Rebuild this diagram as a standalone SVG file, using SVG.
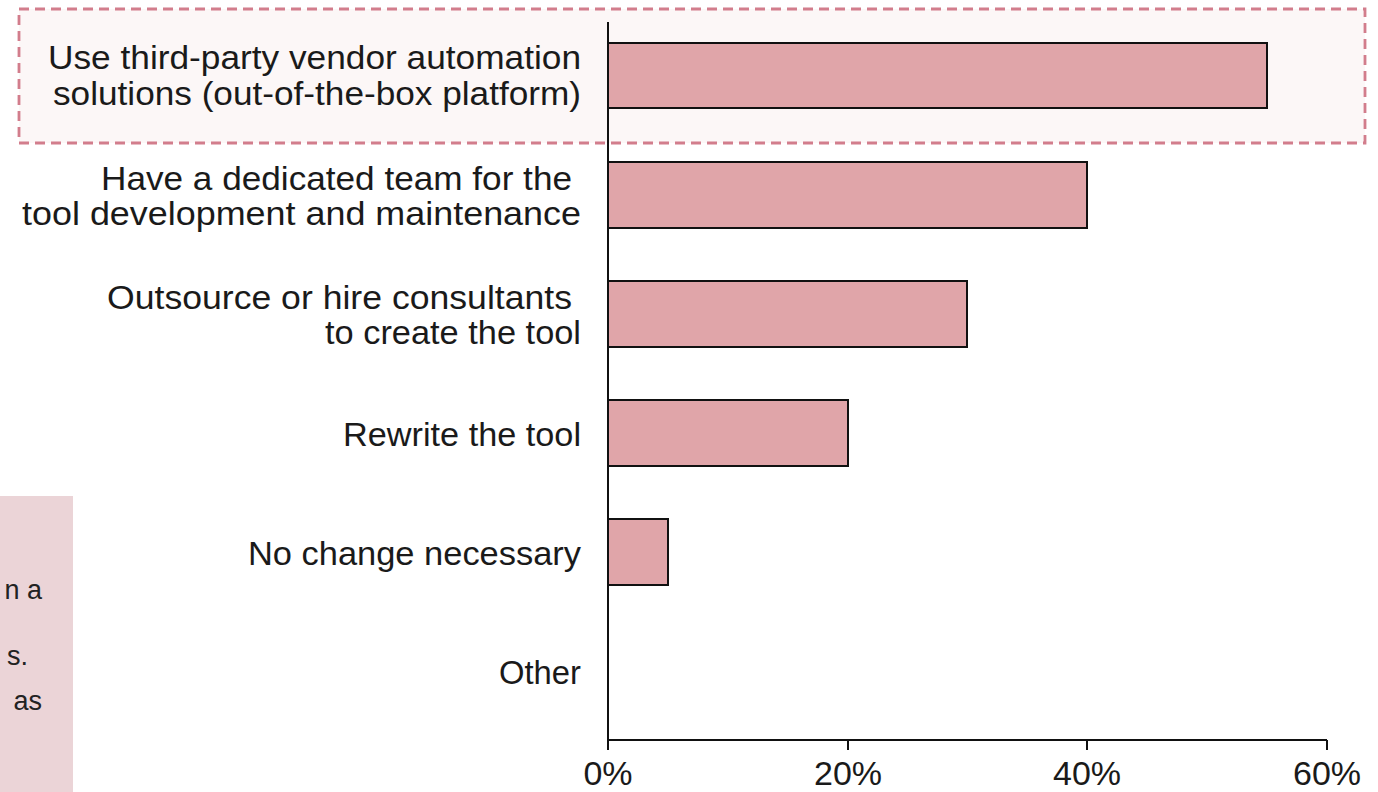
<svg xmlns="http://www.w3.org/2000/svg" width="1378" height="792" viewBox="0 0 1378 792">
<style>
.lbl{font-family:"Liberation Sans",Arial,sans-serif;font-size:34px;fill:#1a1a1a;text-anchor:end}
.tick{font-family:"Liberation Sans",Arial,sans-serif;font-size:34px;fill:#1a1a1a;text-anchor:middle}
.bar{fill:#E0A5A9;stroke:#111;stroke-width:2}
.ax{stroke:#111;stroke-width:2;fill:none}
.note{font-family:"Liberation Sans",Arial,sans-serif;font-size:27px;fill:#222;text-anchor:end}
</style>
<rect width="1378" height="792" fill="#ffffff"/>
<g id="note-box">
<rect x="0" y="496" width="73" height="300" fill="#EBD4D7"/>
<text class="note" x="42" y="599">n a</text>
<text class="note" x="28" y="665">s.</text>
<text class="note" x="42" y="710">as</text>
</g>
<g id="highlight">
<rect x="19" y="9" width="1346" height="134" fill="#FCF7F7" stroke="#D27D8C" stroke-width="2.8" stroke-dasharray="10 6"/>
</g>
<g id="axes">
<path class="ax" d="M608 22V750M608 740H1327M848 740V750M1087 740V750M1327 740V750"/>
<text class="tick" x="608" y="785">0%</text>
<text class="tick" x="848" y="785">20%</text>
<text class="tick" x="1087" y="785">40%</text>
<text class="tick" x="1327" y="785">60%</text>
</g>
<g id="bar-vendor">
<rect class="bar" x="608" y="43" width="659" height="65"/>
<text class="lbl" x="581" y="69" textLength="533" lengthAdjust="spacingAndGlyphs">Use third-party vendor automation</text>
<text class="lbl" x="581" y="105" textLength="528" lengthAdjust="spacingAndGlyphs">solutions (out-of-the-box platform)</text>
</g>
<g id="bar-team">
<rect class="bar" x="608" y="162" width="479" height="66"/>
<text class="lbl" x="572" y="190" textLength="471" lengthAdjust="spacingAndGlyphs">Have a dedicated team for the</text>
<text class="lbl" x="581" y="225" textLength="559" lengthAdjust="spacingAndGlyphs">tool development and maintenance</text>
</g>
<g id="bar-outsource">
<rect class="bar" x="608" y="281" width="359" height="66"/>
<text class="lbl" x="572" y="309" textLength="465" lengthAdjust="spacingAndGlyphs">Outsource or hire consultants</text>
<text class="lbl" x="581" y="344" textLength="256" lengthAdjust="spacingAndGlyphs">to create the tool</text>
</g>
<g id="bar-rewrite">
<rect class="bar" x="608" y="400" width="240" height="66"/>
<text class="lbl" x="581" y="446" textLength="238" lengthAdjust="spacingAndGlyphs">Rewrite the tool</text>
</g>
<g id="bar-nochange">
<rect class="bar" x="608" y="519" width="60" height="66"/>
<text class="lbl" x="581" y="565" textLength="333" lengthAdjust="spacingAndGlyphs">No change necessary</text>
</g>
<g id="bar-other">
<text class="lbl" x="581" y="684" textLength="82" lengthAdjust="spacingAndGlyphs">Other</text>
</g>
</svg>
